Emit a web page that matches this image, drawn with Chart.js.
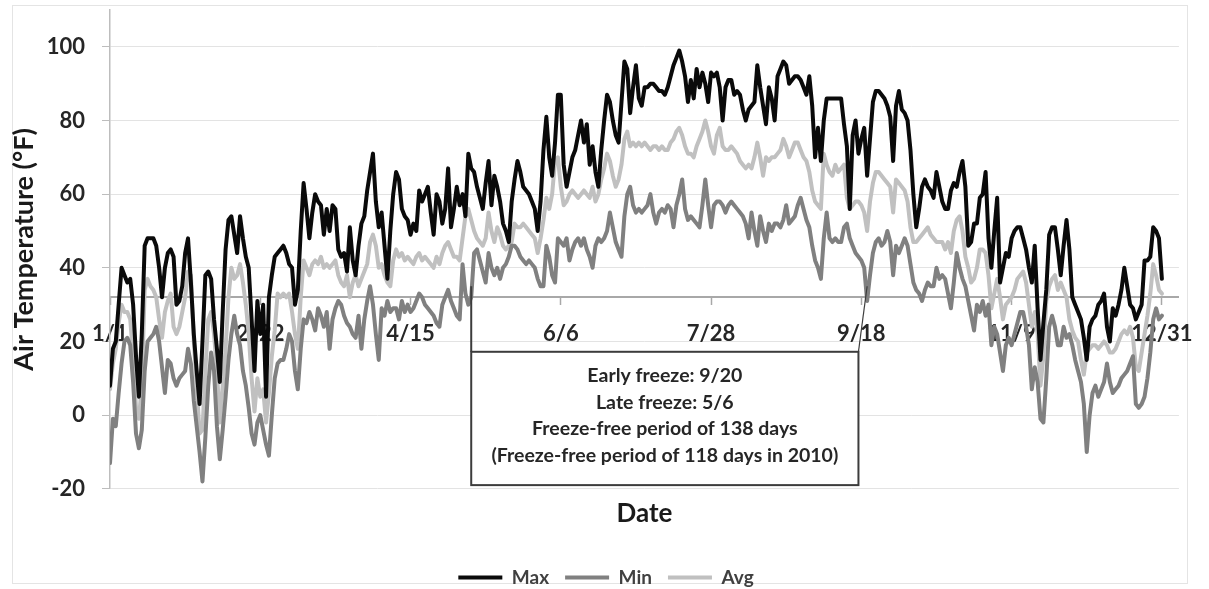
<!DOCTYPE html>
<html>
<head>
<meta charset="utf-8">
<script src="https://cdn.jsdelivr.net/npm/chart.js@4.4.1/dist/chart.umd.min.js"></script>
<style>
  html, body { margin: 0; padding: 0; background: #ffffff; overflow: hidden; }
  #wrap { width: 1209px; height: 589px; }
</style>
</head>
<body>
<div id="wrap"><canvas id="c" width="1209" height="589"></canvas></div>
<script>
// Day-of-year positions (0 = Jan 1) that carry a date label, and the labels
const tickDays   = [0, 52, 104, 156, 208, 260, 312, 364];
const dateLabels = ['1/1', '2/22', '4/15', '6/6', '7/28', '9/18', '11/9', '12/31'];

// Daily air temperature (°F), Jan 1 .. Dec 31
const maxTemps = [
  8,18,20,30,40,38,36,37,30,16,
  5,22,46,48,48,48,46,40,32,40,
  44,45,43,30,31,35,44,48,36,22,
  12,3,20,38,39,37,26,18,9,28,
  45,53,54,49,44,54,48,43,40,26,
  12,31,22,30,5,32,38,43,44,45,
  46,44,41,40,30,34,50,63,56,48,
  55,60,58,57,49,56,50,57,56,45,
  43,44,39,51,42,38,46,52,54,61,
  66,71,58,51,55,46,37,50,60,66,
  64,56,54,53,49,52,50,61,58,60,
  62,55,49,60,58,52,56,67,51,56,
  62,57,60,54,71,67,66,62,59,56,
  63,69,57,65,62,58,52,50,47,58,
  64,69,66,62,61,60,58,56,50,58,
  72,81,70,65,74,87,87,68,62,66,
  70,72,76,80,74,79,68,73,66,62,
  72,80,87,85,80,76,74,85,96,94,
  82,89,95,86,84,89,89,90,90,89,
  88,88,87,89,92,95,97,99,96,92,
  85,91,86,94,89,93,90,85,93,92,
  93,89,80,89,91,91,87,88,87,83,
  80,83,84,85,95,89,84,79,89,86,
  80,92,94,96,95,90,91,92,92,91,
  89,87,92,84,70,78,69,80,86,86,
  86,86,86,86,79,73,56,76,80,71,
  75,78,65,75,85,88,88,87,86,84,
  81,69,84,88,83,82,80,72,60,51,
  56,62,64,62,61,59,66,62,58,56,
  56,61,63,62,66,69,62,46,47,52,
  52,59,60,66,48,40,50,59,36,40,
  44,43,48,50,51,51,48,45,40,36,
  46,29,15,25,34,49,51,51,45,38,
  46,53,45,32,30,28,26,21,15,24,
  26,27,30,31,33,24,20,29,27,30,
  34,40,35,30,29,26,28,30,42,42,
  43,51,50,48,37
];

const minTemps = [
  -13,-1,-3,6,14,20,21,19,9,-5,
  -9,-4,12,20,21,22,24,20,13,6,
  15,14,10,8,10,11,12,18,14,4,
  -3,-10,-18,-6,8,17,12,-3,-12,-4,
  5,15,22,27,22,19,12,8,2,-5,
  -8,-2,0,-4,-8,-11,0,10,14,15,
  15,18,22,20,12,7,18,26,25,28,
  26,23,29,27,24,28,18,26,29,31,
  30,27,25,24,22,21,27,18,26,31,
  35,30,22,15,29,27,31,28,29,29,
  26,31,28,30,28,29,31,33,32,30,
  29,28,27,25,24,30,32,34,31,29,
  27,26,41,33,30,32,44,45,42,39,
  36,44,40,38,40,37,40,41,43,46,
  46,45,43,42,41,42,41,40,37,35,
  35,46,43,38,36,48,47,46,48,42,
  45,47,48,46,48,45,43,40,46,48,
  47,48,50,55,51,47,45,43,54,60,
  62,57,55,56,55,56,57,60,55,52,
  55,56,55,57,56,51,57,60,64,56,
  53,54,53,52,51,57,64,57,51,57,
  58,58,57,55,57,58,57,56,55,54,
  52,48,55,50,46,54,50,47,52,50,
  52,52,51,53,57,52,53,54,57,59,
  56,53,51,46,42,40,37,48,55,48,
  47,48,47,47,51,52,48,46,44,43,
  42,40,31,38,44,47,48,46,47,50,
  47,38,46,44,46,48,46,41,36,34,
  33,31,34,36,35,35,40,37,38,37,
  33,29,36,44,40,37,35,31,27,23,
  30,28,31,27,30,19,24,22,17,12,
  19,21,19,22,25,28,28,24,19,7,
  13,9,-1,-2,10,24,27,24,19,19,
  24,21,22,19,15,12,9,3,-10,0,
  6,8,5,7,9,14,9,6,7,8,
  10,11,12,14,16,3,2,3,5,10,
  17,26,29,26,27
];

const avgTemps = [
  7,14,18,25,30,28,28,26,16,2,
  -1,8,34,37,35,34,32,26,21,28,
  31,33,24,22,24,28,32,39,38,20,
  8,-5,-4,12,26,28,22,12,-2,8,
  18,32,40,37,38,41,36,30,22,10,
  1,10,5,7,-2,6,16,23,33,32,
  33,32,33,28,22,18,32,42,40,38,
  41,42,41,43,40,41,40,41,42,38,
  36,35,38,32,36,38,35,37,39,41,
  47,49,46,40,41,38,36,35,42,45,
  43,44,42,43,42,41,43,44,42,43,
  42,41,40,43,41,44,46,47,45,43,
  43,42,48,54,56,53,50,48,47,46,
  48,55,50,47,51,49,46,45,46,47,
  52,51,51,52,51,50,49,48,44,48,
  53,59,56,60,69,70,62,57,58,60,
  61,60,59,60,61,60,59,62,58,60,
  64,67,71,69,65,62,64,68,75,77,
  73,74,73,74,73,74,73,72,73,73,
  72,73,72,72,74,75,77,78,76,73,
  71,71,70,73,75,77,80,77,73,71,
  76,78,73,72,72,73,72,71,69,68,
  67,68,67,70,74,70,65,70,69,70,
  70,71,72,75,73,70,72,74,74,72,
  70,69,66,61,58,57,56,71,68,66,
  65,68,66,67,68,59,56,57,58,58,
  57,55,50,58,63,66,66,65,64,63,
  62,55,64,63,62,61,58,51,47,47,
  48,49,50,51,49,48,47,47,47,45,
  47,44,50,53,54,50,43,40,36,37,
  40,45,45,44,38,29,33,37,32,26,
  30,31,32,34,37,38,39,36,30,24,
  28,22,8,16,31,35,37,38,34,36,
  34,32,26,23,21,20,15,11,17,18,
  19,19,18,19,20,19,17,17,18,20,
  22,23,22,24,21,13,12,17,22,27,
  33,41,38,34,33
];

// Freeze dates (day index) and the note text shown beneath the axis
const lateFreezeDay  = 125;  // 5/6
const earlyFreezeDay = 262;  // 9/20
const freezeLine = 32;
const noteLines = [
  'Early freeze: 9/20',
  'Late freeze: 5/6',
  'Freeze-free period of 138 days',
  '(Freeze-free period of 118 days in 2010)'
];

const FONT = 'Lato, "Open Sans", sans-serif';

const toPoints = arr => arr.map((v, i) => ({ x: i, y: v }));

// White page with a faint outer frame
const framePlugin = {
  id: 'frame',
  beforeDraw(chart) {
    const ctx = chart.ctx;
    ctx.save();
    ctx.fillStyle = '#ffffff';
    ctx.fillRect(0, 0, chart.width, chart.height);
    ctx.strokeStyle = '#e4e4e4';
    ctx.lineWidth = 1;
    ctx.strokeRect(12.5, 5.5, 1175, 578);
    ctx.restore();
  }
};

// Callout box with the freeze summary, tied to the freeze dates
const calloutPlugin = {
  id: 'freezeNote',
  afterDatasetsDraw(chart) {
    const { ctx, scales: { x, y } } = chart;
    const left = x.getPixelForValue(lateFreezeDay);
    const right = x.getPixelForValue(259);
    const top = y.getPixelForValue(17.2);
    const bottom = y.getPixelForValue(-19);
    const leaderTop = y.getPixelForValue(35);
    ctx.save();
    ctx.fillStyle = '#ffffff';
    ctx.fillRect(left, top, right - left, bottom - top);
    ctx.strokeStyle = '#3c3c3c';
    ctx.lineWidth = 2;
    ctx.strokeRect(left, top, right - left, bottom - top);
    ctx.beginPath();
    ctx.moveTo(left, top);
    ctx.lineTo(left, leaderTop);
    ctx.stroke();
    ctx.lineWidth = 1.2;
    ctx.beginPath();
    ctx.moveTo(right, top);
    ctx.lineTo(x.getPixelForValue(earlyFreezeDay), leaderTop);
    ctx.stroke();
    ctx.fillStyle = '#262626';
    ctx.font = 'bold 19.5px ' + FONT;
    ctx.textAlign = 'center';
    ctx.textBaseline = 'middle';
    const cx = (left + right) / 2;
    noteLines.forEach((t, i) => ctx.fillText(t, cx, top + 24 + i * 26.7));
    ctx.restore();
  }
};

function draw() {
  new Chart(document.getElementById('c'), {
    type: 'line',
    data: {
      datasets: [
        { label: 'Max', data: toPoints(maxTemps), borderColor: '#0a0a0a', backgroundColor: '#0a0a0a', borderWidth: 4 },
        { label: 'Min', data: toPoints(minTemps), borderColor: '#808080', backgroundColor: '#808080', borderWidth: 4 },
        { label: 'Avg', data: toPoints(avgTemps), borderColor: '#c0c0c0', backgroundColor: '#c0c0c0', borderWidth: 4 }
      ]
    },
    options: {
      responsive: false,
      animation: false,
      events: [],
      layout: { padding: { left: 30, right: 27, top: 10, bottom: -8 } },
      elements: {
        point: { radius: 0 },
        line: { tension: 0, borderJoinStyle: 'round', borderCapStyle: 'round' }
      },
      scales: {
        x: {
          type: 'linear',
          position: { y: freezeLine },
          min: 0,
          max: 369.9,
          afterBuildTicks: s => { s.ticks = tickDays.map(v => ({ value: v })); },
          ticks: {
            autoSkip: false, maxRotation: 0,
            callback: (v, i) => dateLabels[i],
            font: { family: FONT, size: 22, weight: 'bold' },
            color: '#262626',
            padding: 16
          },
          grid: { drawOnChartArea: false, tickLength: 7, tickColor: '#a8a8a8', tickWidth: 1.5 },
          border: { color: '#a8a8a8', width: 2 }
        },
        y: {
          min: -20,
          max: 110,
          afterBuildTicks: s => { s.ticks = s.ticks.filter(t => t.value <= 100); },
          afterFit: s => { s.width = 80; s.paddingTop = 0; s.paddingBottom = 0; },
          ticks: {
            stepSize: 20,
            font: { family: FONT, size: 22, weight: 'bold' },
            color: '#262626',
            padding: 17
          },
          grid: { color: '#e3e3e3', lineWidth: 1, tickLength: 8, tickColor: '#bdbdbd' },
          border: { color: '#bdbdbd', width: 1.5 },
          title: {
            display: true,
            text: 'Air Temperature (°F)',
            font: { family: FONT, size: 27, weight: 'bold' },
            color: '#1a1a1a',
            padding: { top: -22, bottom: 0 }
          }
        }
      },
      plugins: {
        legend: {
          position: 'bottom',
          labels: {
            usePointStyle: true,
            pointStyle: 'line',
            pointStyleWidth: 44,
            padding: 16,
            color: '#404040',
            font: { family: FONT, size: 19, weight: 'bold' }
          }
        },
        title: {
          display: true,
          text: 'Date',
          position: 'bottom',
          fullSize: false,
          weight: 500,
          color: '#1a1a1a',
          font: { family: FONT, size: 26, weight: 'bold' },
          padding: { top: 9, bottom: 23 }
        },
        tooltip: { enabled: false }
      }
    },
    plugins: [framePlugin, calloutPlugin]
  });
}

if (document.fonts && document.fonts.load) {
  Promise.all([
    document.fonts.load('bold 22px Lato'),
    document.fonts.load('bold 19px Lato')
  ]).then(draw, draw);
} else {
  draw();
}
</script>
</body>
</html>
